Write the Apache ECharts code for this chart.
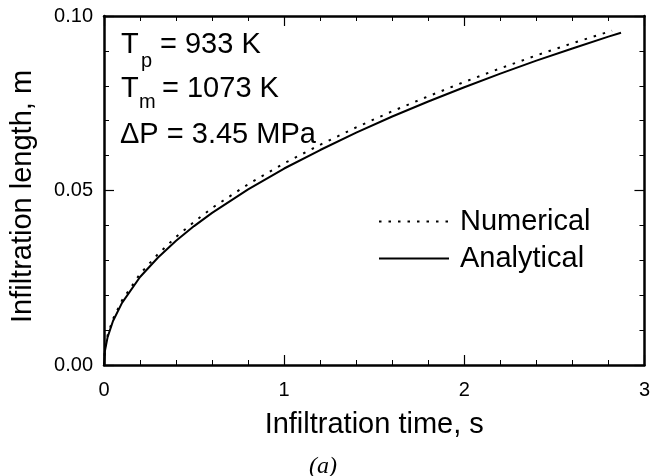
<!DOCTYPE html>
<html>
<head>
<meta charset="utf-8">
<script src="https://cdn.jsdelivr.net/npm/echarts@6/dist/echarts.min.js"></script>
<style>
html,body{margin:0;padding:0;background:#fff;}
#chart{width:653px;height:476px;}
</style>
</head>
<body>
<div id="chart"></div>
<script>
// Infiltration time (s) and length (m)
const timeNumerical = [0, 0.005, 0.02, 0.05, 0.1, 0.2, 0.3, 0.4, 0.5, 0.6, 0.8, 1.0, 1.2, 1.4, 1.6, 1.8, 2.0, 2.2, 2.4, 2.6, 2.82];
const lengthNumerical = [0, 0.0043, 0.0085, 0.0132, 0.0185, 0.0261, 0.0318, 0.0367, 0.0410, 0.0450, 0.0518, 0.0578, 0.0631, 0.0681, 0.0727, 0.0770, 0.0811, 0.0850, 0.0887, 0.0922, 0.0958];
const timeAnalytical = [0, 0.005, 0.02, 0.05, 0.1, 0.2, 0.3, 0.4, 0.5, 0.6, 0.8, 1.0, 1.2, 1.4, 1.6, 1.8, 2.0, 2.2, 2.4, 2.6, 2.8, 2.87];
const lengthAnalytical = [0, 0.0040, 0.0080, 0.0126, 0.0178, 0.0252, 0.0308, 0.0356, 0.0398, 0.0436, 0.0503, 0.0563, 0.0616, 0.0666, 0.0712, 0.0755, 0.0796, 0.0835, 0.0872, 0.0907, 0.0941, 0.0952];
const seriesNames = ['Numerical', 'Analytical'];
const xTitle = 'Infiltration time, s';
const yTitle = 'Infiltration length, m';

const FONT = '"Liberation Sans", Arial, Helvetica, sans-serif';
const chart = echarts.init(document.getElementById('chart'));

function zip(a, b) { return a.map((v, i) => [v, b[i]]); }

const axisLine = { show: true, onZero: false, lineStyle: { color: '#000', width: 2.5 } };
const axisTick = { show: true, inside: true, length: 10, lineStyle: { color: '#000', width: 1.2 } };
const minorTick = { show: true, splitNumber: 5, length: 5, lineStyle: { color: '#000', width: 1 } };

const option = {
  backgroundColor: '#fff',
  animation: false,
  grid: { left: 104, right: 8, top: 16, bottom: 111, containLabel: false },
  legend: {
    orient: 'vertical',
    left: 373,
    top: 202,
    itemWidth: 70,
    itemHeight: 14,
    itemGap: 8,
    data: seriesNames,
    itemStyle: { color: 'rgba(0,0,0,0)', borderWidth: 0 },
    textStyle: { fontSize: 29, color: '#000', fontFamily: FONT, padding: [0, 0, 0, 6] }
  },
  xAxis: [
    {
      type: 'value', min: 0, max: 3, interval: 1, position: 'bottom',
      axisLine, axisTick, minorTick,
      splitLine: { show: false },
      axisLabel: { fontSize: 20, color: '#000', fontFamily: FONT, margin: 15 },
      name: xTitle, nameLocation: 'middle', nameGap: 45,
      nameTextStyle: { fontSize: 29, color: '#000', fontFamily: FONT }
    },
    {
      type: 'value', min: 0, max: 3, interval: 1, position: 'top',
      axisLine, axisTick, minorTick,
      splitLine: { show: false },
      axisLabel: { show: false }
    }
  ],
  yAxis: [
    {
      type: 'value', min: 0, max: 0.1, interval: 0.05, position: 'left',
      axisLine, axisTick, minorTick,
      splitLine: { show: false },
      axisLabel: { fontSize: 20, color: '#000', fontFamily: FONT, margin: 11, formatter: v => v.toFixed(2) },
      name: yTitle, nameLocation: 'middle', nameGap: 67, nameRotate: 90,
      nameTextStyle: { fontSize: 29, color: '#000', fontFamily: FONT, padding: [0, 12, 0, 0] }
    },
    {
      type: 'value', min: 0, max: 0.1, interval: 0.05, position: 'right',
      axisLine, axisTick, minorTick,
      splitLine: { show: false },
      axisLabel: { show: false }
    }
  ],
  series: [
    {
      name: seriesNames[0], type: 'line', xAxisIndex: 0, yAxisIndex: 0,
      data: zip(timeNumerical, lengthNumerical),
      symbol: 'none', showSymbol: false, smooth: false,
      lineStyle: { color: '#000', width: 2, type: [2.5, 7] },
      itemStyle: { color: '#000' }
    },
    {
      name: seriesNames[1], type: 'line', xAxisIndex: 0, yAxisIndex: 0,
      data: zip(timeAnalytical, lengthAnalytical),
      symbol: 'none', showSymbol: false, smooth: false,
      lineStyle: { color: '#000', width: 2, type: 'solid' },
      itemStyle: { color: '#000' }
    }
  ],
  graphic: [
    { type: 'text', left: 121, top: 30, style: { text: 'T', font: '29px ' + FONT, fill: '#000' } },
    { type: 'text', left: 141, top: 51, style: { text: 'p', font: '20px ' + FONT, fill: '#000' } },
    { type: 'text', left: 160, top: 30, style: { text: '= 933 K', font: '29px ' + FONT, fill: '#000' } },
    { type: 'text', left: 121, top: 74, style: { text: 'T', font: '29px ' + FONT, fill: '#000' } },
    { type: 'text', left: 139, top: 92, style: { text: 'm', font: '20px ' + FONT, fill: '#000' } },
    { type: 'text', left: 162, top: 74, style: { text: '= 1073 K', font: '29px ' + FONT, fill: '#000' } },
    { type: 'text', left: 120, top: 120, style: { text: 'ΔP = 3.45 MPa', font: '29px ' + FONT, fill: '#000' } },
    { type: 'text', left: 309, top: 455, style: { text: '(a)', font: 'italic 24px "Liberation Serif", "Times New Roman", serif', fill: '#000' } }
  ]
};
chart.setOption(option);
</script>
</body>
</html>
